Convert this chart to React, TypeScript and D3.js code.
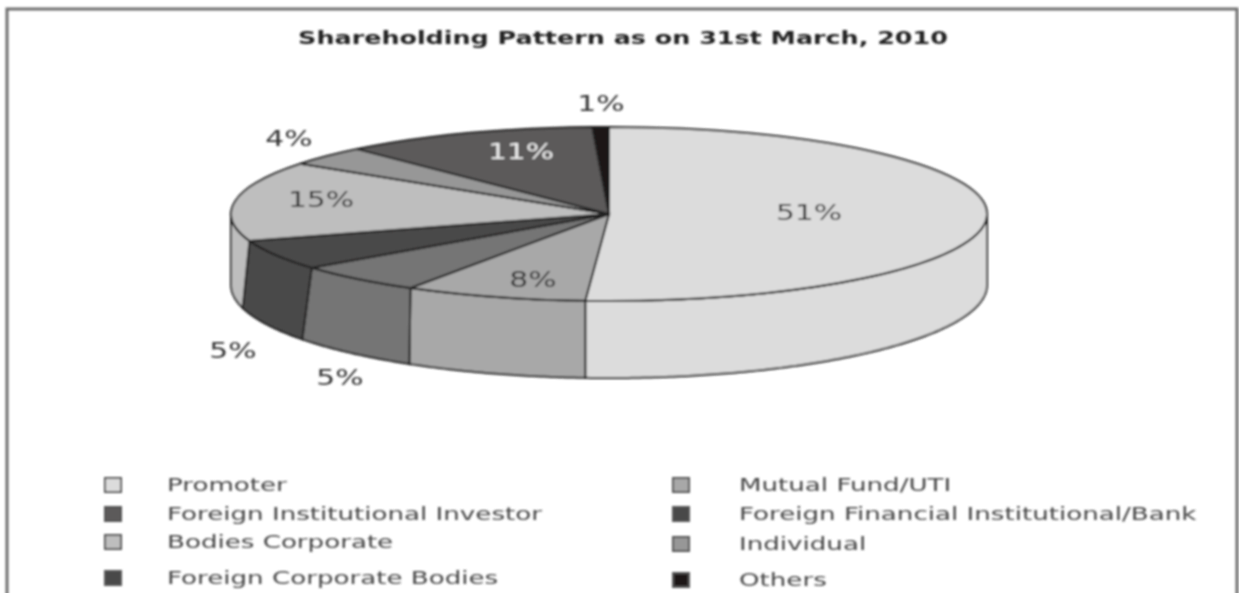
import React from 'react';
import * as d3 from 'd3';

const title = 'Shareholding Pattern as on 31st March, 2010';

// sweep of each slice, the printed labels are rounded
const categories = ['Promoter', 'Mutual Fund/UTI', 'Foreign Corporate Bodies', 'Foreign Financial', 'Bodies Corporate', 'Individual', 'Foreign Institutional Investor', 'Others'];
const sweeps = [51, 7.8, 5.6, 5.6, 14.8, 3.6, 10.9, 0.7];
const colors = ['#dcdcdc', '#a8a8a8', '#757575', '#4a4848', '#bebebe', '#979797', '#5c5a5a', '#1a1616'];
// the wall seams lean a little in the picture, degrees per slice start
const seamLean = [0, 0, 0.2, 2.4, 3.7, 0, 0, 0];

const sliceLabels = ['51%', '8%', '5%', '5%', '15%', '4%', '11%', '1%'];
const labelX = [809, 533, 340, 233, 321, 289, 521, 601];
const labelY = [212, 279, 377, 350, 199, 138, 151, 103];
const labelFill = ['#333', '#333', '#333', '#333', '#333', '#333', '#eee', '#333'];

const legendLeft = ['Promoter', 'Foreign Institutional Investor', 'Bodies Corporate', 'Foreign Corporate Bodies'];
const legendLeftColors = ['#dcdcdc', '#5c5a5a', '#bebebe', '#4a4848'];
const legendLeftY = [485, 514, 542, 578];
const legendRight = ['Mutual Fund/UTI', 'Foreign Financial Institutional/Bank', 'Individual', 'Others'];
const legendRightColors = ['#a8a8a8', '#4a4848', '#979797', '#1a1616'];
const legendRightY = [485, 514, 544, 580];

const width = 1239;
const height = 593;
const cx = 609;
const cy = 214;
const rx = 378;
const ry = 87;
const bottomCy = 285;
const bottomRy = 93;
const stretch = 1.42; // the whole picture is stretched sideways
const font = 'Verdana, "DejaVu Sans", sans-serif';

const App = () => {
  const pie = d3.pie<number>().sort(null)(sweeps);
  const arc = d3.arc<d3.PieArcDatum<number>>().innerRadius(0).outerRadius(rx);
  const rad = Math.PI / 180;

  // side wall of a slice, only the part that faces the viewer
  const wall = (d: d3.PieArcDatum<number>, i: number) => {
    const a0 = Math.max(d.startAngle, Math.PI / 2);
    const a1 = Math.min(d.endAngle, (3 * Math.PI) / 2);
    if (a1 <= a0) return null;
    const b0 = a0 + seamLean[i] * rad;
    const b1 = Math.min(a1 + (seamLean[i + 1] || 0) * rad, (3 * Math.PI) / 2);
    const top = d3.range(a0, a1, 0.01).concat([a1]).map((a): [number, number] => [cx + rx * Math.sin(a), cy - ry * Math.cos(a)]);
    const bottom = d3.range(b0, b1, 0.01).concat([b1]).reverse().map((a): [number, number] => [cx + rx * Math.sin(a), bottomCy - bottomRy * Math.cos(a)]);
    return d3.line()(top.concat(bottom)) + 'Z';
  };

  const stretched = (x: number, y: number) => `translate(${x},${y}) scale(${stretch},1)`;

  return (
    <svg width={width} height={height} style={{ position: 'absolute', left: 0, top: 0, background: '#fff' }}>
      <defs>
        <filter id="soft" x="-5%" y="-5%" width="110%" height="110%">
          <feGaussianBlur stdDeviation="0.9" />
        </filter>
      </defs>
      <g filter="url(#soft)" fontFamily={font}>
        {/* frame, open at the bottom */}
        <path d={`M7,${height + 10}V9H1237V${height + 10}`} fill="none" stroke="#6e6e6e" strokeWidth={3} />
        <text transform={stretched(623, 44)} textAnchor="middle" fontSize={17.9} fontWeight="bold" fill="#222">{title}</text>

        {pie.map((d, i) => {
          const p = wall(d, i);
          return p ? <path key={categories[i]} d={p} fill={colors[i]} stroke="#222" strokeWidth={2} /> : null;
        })}
        <g transform={`translate(${cx},${cy}) scale(1,${ry / rx})`}>
          {pie.map((d, i) => (
            <path key={categories[i]} d={arc(d) as string} fill={colors[i]} stroke="#222" strokeWidth={2} vectorEffect="non-scaling-stroke" />
          ))}
        </g>

        {sliceLabels.map((t, i) => (
          <text key={i} transform={stretched(labelX[i], labelY[i])} dy="0.36em" textAnchor="middle" fontSize={21} fill={labelFill[i]}>{t}</text>
        ))}

        {legendLeft.map((t, i) => (
          <g key={t}>
            <rect x={105} y={legendLeftY[i] - 7} width={16} height={14} fill={legendLeftColors[i]} stroke="#555" strokeWidth={2} />
            <text transform={stretched(167, legendLeftY[i])} dy="0.32em" fontSize={18.4} fill="#444">{t}</text>
          </g>
        ))}
        {legendRight.map((t, i) => (
          <g key={t}>
            <rect x={673} y={legendRightY[i] - 7} width={16} height={14} fill={legendRightColors[i]} stroke="#555" strokeWidth={2} />
            <text transform={stretched(739, legendRightY[i])} dy="0.32em" fontSize={18.4} fill="#444">{t}</text>
          </g>
        ))}
      </g>
    </svg>
  );
};

export default App;
